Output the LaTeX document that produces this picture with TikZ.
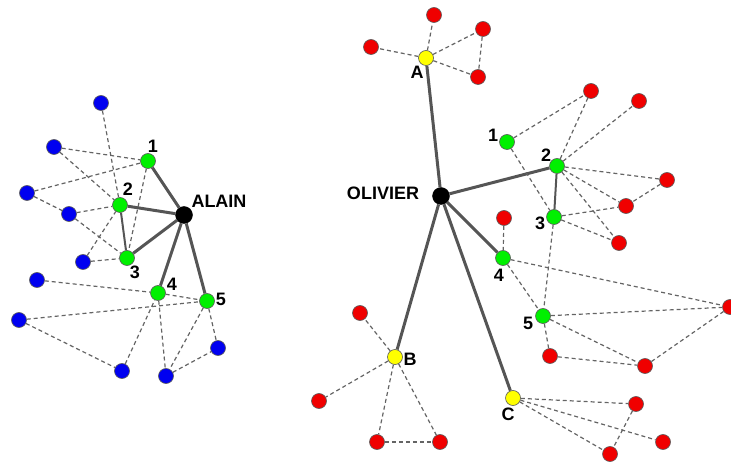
\documentclass[tikz,border=0pt]{standalone}
\usepackage{fontspec}
\setmainfont{Liberation Sans}
\definecolor{nblue}{RGB}{0,0,240}
\definecolor{ngreen}{RGB}{0,240,0}
\definecolor{nred}{RGB}{240,0,0}
\definecolor{nyellow}{RGB}{255,255,0}
\definecolor{edgegray}{RGB}{85,85,85}
\definecolor{dashgray}{RGB}{100,100,100}
\tikzset{
  vtx/.style={circle,draw=black!65,line width=0.6pt,minimum size=15pt,inner sep=0pt},
  bnode/.style={vtx,fill=nblue},
  gnode/.style={vtx,fill=ngreen},
  rnode/.style={vtx,fill=nred},
  ynode/.style={vtx,fill=nyellow},
  hub/.style={circle,fill=black,draw=black,minimum size=17pt,inner sep=0pt},
  lbl/.style={font=\bfseries\fontsize{18}{18}\selectfont,inner sep=0pt},
  tie/.style={draw=edgegray,line width=3pt},
  midtie/.style={draw=edgegray,line width=2pt},
  weak/.style={draw=dashgray,line width=1.2pt,dash pattern=on 4pt off 3pt},
}
\begin{document}
\begin{tikzpicture}[x=1pt,y=-1pt]
\useasboundingbox (0,0) rectangle (731,462);
% ---------- ALAIN ----------
\node[hub] (al) at (184,215) {};
\node[gnode] (a1) at (148,161) {};
\node[gnode] (a2) at (120,205) {};
\node[gnode] (a3) at (127,258) {};
\node[gnode] (a4) at (158,293) {};
\node[gnode] (a5) at (207,301) {};
\node[bnode] (b1) at (101,103) {};
\node[bnode] (b2) at (54,147) {};
\node[bnode] (b3) at (27,193) {};
\node[bnode] (b4) at (69,214) {};
\node[bnode] (b5) at (83,262) {};
\node[bnode] (b6) at (37,280) {};
\node[bnode] (b7) at (19,320) {};
\node[bnode] (b8) at (122,371) {};
\node[bnode] (b9) at (166,376) {};
\node[bnode] (b10) at (218,348) {};
\node[lbl] (lal) at (219,201) {ALAIN};
\node[lbl] (l1) at (153,146) {1};
\node[lbl] (l2) at (128,189) {2};
\node[lbl] (l3) at (135,272) {3};
\node[lbl] (l4) at (172,284) {4};
\node[lbl] (l5) at (221,299) {5};
\draw[tie] (al) -- (a1);
\draw[tie] (al) -- (a2);
\draw[tie] (al) -- (a3);
\draw[tie] (al) -- (a4);
\draw[tie] (al) -- (a5);
\draw[midtie] (a2) -- (a3);
\draw[weak] (b1) -- (a2);
\draw[weak] (b2) -- (a1);
\draw[weak] (b2) -- (a2);
\draw[weak] (b3) -- (a1);
\draw[weak] (b3) -- (b4);
\draw[weak] (b4) -- (a2);
\draw[weak] (b4) -- (a3);
\draw[weak] (b5) -- (a2);
\draw[weak] (b5) -- (a3);
\draw[weak] (a1) -- (a3);
\draw[weak] (b6) -- (a4);
\draw[weak] (a4) -- (a5);
\draw[weak] (b7) -- (a5);
\draw[weak] (b7) -- (b8);
\draw[weak] (b8) -- (a4);
\draw[weak] (a4) -- (b9);
\draw[weak] (a5) -- (b9);
\draw[weak] (a5) -- (b10);
\draw[weak] (b9) -- (b10);
% ---------- OLIVIER ----------
\node[hub] (ol) at (441,196) {};
\node[ynode] (oA) at (426,58) {};
\node[ynode] (oB) at (395,357) {};
\node[ynode] (oC) at (513,398) {};
\node[gnode] (o1) at (507,142) {};
\node[gnode] (o2) at (557,166) {};
\node[gnode] (o3) at (554,217) {};
\node[gnode] (o4) at (503,258) {};
\node[gnode] (o5) at (543,316) {};
\node[rnode] (ra1) at (371,47) {};
\node[rnode] (ra2) at (434,15) {};
\node[rnode] (ra3) at (483,29) {};
\node[rnode] (ra4) at (478,77) {};
\node[rnode] (r1) at (591,91) {};
\node[rnode] (r2) at (639,101) {};
\node[rnode] (r3) at (667,180) {};
\node[rnode] (r4) at (626,206) {};
\node[rnode] (r5) at (619,243) {};
\node[rnode] (r6) at (504,218) {};
\node[rnode] (r7) at (730,307) {};
\node[rnode] (r8) at (550,356) {};
\node[rnode] (r9) at (645,366) {};
\node[rnode] (rc1) at (636,404) {};
\node[rnode] (rc2) at (663,442) {};
\node[rnode] (rc3) at (610,454) {};
\node[rnode] (rb1) at (360,313) {};
\node[rnode] (rb2) at (319,401) {};
\node[rnode] (rb3) at (377,442) {};
\node[rnode] (rb4) at (440,442) {};
\node[lbl] (lol) at (383,193) {OLIVIER};
\node[lbl] (lA) at (417,72) {A};
\node[lbl] (lB) at (410,359) {B};
\node[lbl] (lC) at (508,414) {C};
\node[lbl] (m1) at (493,135) {1};
\node[lbl] (m2) at (546,155) {2};
\node[lbl] (m3) at (540,223) {3};
\node[lbl] (m4) at (499,275) {4};
\node[lbl] (m5) at (528,323) {5};
\draw[tie] (ol) -- (oA);
\draw[tie] (ol) -- (o2);
\draw[tie] (ol) -- (o4);
\draw[tie] (ol) -- (oB);
\draw[tie] (ol) -- (oC);
\draw[midtie] (o2) -- (o3);
\draw[weak] (oA) -- (ra1);
\draw[weak] (oA) -- (ra2);
\draw[weak] (oA) -- (ra3);
\draw[weak] (oA) -- (ra4);
\draw[weak] (ra3) -- (ra4);
\draw[weak] (o1) -- (r1);
\draw[weak] (o1) -- (o3);
\draw[weak] (o2) -- (r1);
\draw[weak] (o2) -- (r2);
\draw[weak] (o2) -- (r3);
\draw[weak] (o2) -- (r4);
\draw[weak] (o2) -- (r5);
\draw[weak] (o3) -- (r4);
\draw[weak] (o3) -- (r5);
\draw[weak] (r3) -- (r4);
\draw[weak] (o3) -- (o5);
\draw[weak] (r6) -- (o4);
\draw[weak] (o4) -- (r7);
\draw[weak] (o4) -- (o5);
\draw[weak] (o5) -- (r7);
\draw[weak] (o5) -- (r8);
\draw[weak] (o5) -- (r9);
\draw[weak] (r8) -- (r9);
\draw[weak] (r9) -- (r7);
\draw[weak] (oC) -- (rc1);
\draw[weak] (oC) -- (rc2);
\draw[weak] (oC) -- (rc3);
\draw[weak] (rc1) -- (rc3);
\draw[weak] (oB) -- (rb1);
\draw[weak] (oB) -- (rb2);
\draw[weak] (oB) -- (rb3);
\draw[weak] (oB) -- (rb4);
\draw[weak] (rb3) -- (rb4);
\end{tikzpicture}
\end{document}
